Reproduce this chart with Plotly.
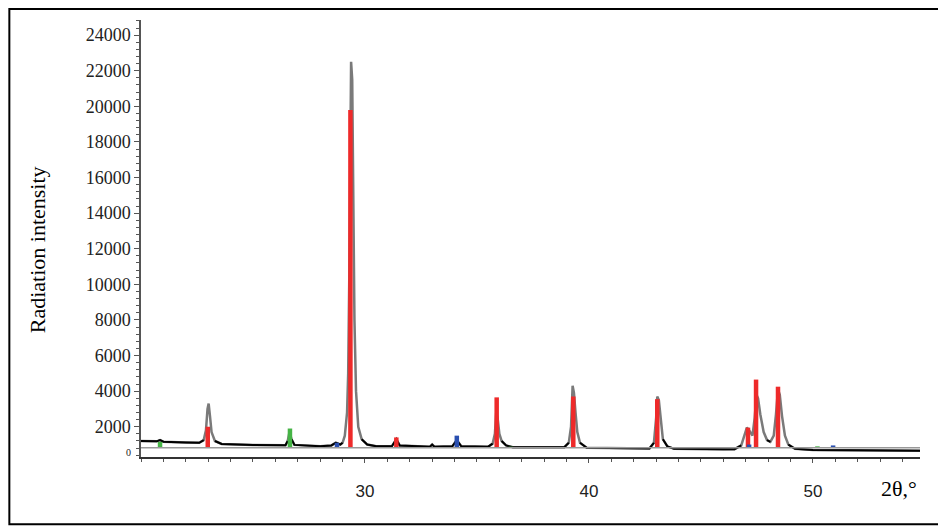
import plotly.graph_objects as go

# measured profile (2theta, intensity)
two_theta = [20.0, 20.7, 20.85, 21.0, 22.0, 22.6, 22.8, 22.9, 22.97, 23.02, 23.08, 23.15, 23.3, 23.6,
             25.0, 26.45, 26.55, 26.63, 26.72, 26.85, 28.0, 28.5, 28.7, 28.9,
             29.0, 29.1, 29.2, 29.25, 29.3, 29.35, 29.38, 29.43, 29.48, 29.53, 29.6, 29.7, 29.85, 30.1, 30.5,
             31.2, 31.4, 31.55, 32.9, 33.0, 33.1, 33.9, 34.1, 34.3,
             35.5, 35.7, 35.8, 35.86, 35.92, 36.0, 36.1, 36.3, 36.6,
             38.9, 39.1, 39.2, 39.27, 39.33, 39.4, 39.48, 39.6, 39.9,
             42.7, 42.9, 43.0, 43.05, 43.12, 43.2, 43.3, 43.5, 43.8,
             46.0, 46.5, 46.8, 46.95, 47.05, 47.15, 47.3, 47.4, 47.48, 47.55, 47.65, 47.8, 47.95,
             48.1, 48.25, 48.35, 48.44, 48.52, 48.62, 48.75, 48.9, 49.2,
             50.0, 52.0, 54.0, 54.8]
intensity = [1200, 1180, 1250, 1160, 1120, 1100, 1250, 1800, 3000, 3300, 2600, 1700, 1200, 1030,
             980, 960, 1200, 1700, 1300, 980, 900, 950, 1100, 1000,
             1100, 1500, 2800, 5000, 10500, 19000, 22500, 21500, 15000, 8000, 4000, 2000, 1300, 1000, 900,
             900, 1300, 950, 880, 1000, 880, 900, 1250, 900,
             880, 1050, 1600, 2800, 2500, 1600, 1200, 950, 850,
             850, 1100, 2000, 4300, 3900, 2800, 1700, 1100, 820,
             780, 1100, 2500, 3700, 3500, 2300, 1300, 900, 760,
             720, 740, 950, 1500, 1950, 1800, 1500, 2500, 3800, 3600, 2700, 1700, 1250,
             1150, 1500, 2700, 4100, 3800, 2600, 1500, 1000, 760,
             700, 680, 660, 650]

# reference sticks
red_pos = [22.98, 29.35, 31.4, 35.88, 39.3, 43.05, 47.1, 47.46, 48.44]
red_int = [2000, 19800, 1400, 3650, 3700, 3550, 1950, 4650, 4250]
green_pos = [20.85, 26.65, 36.5, 50.2]
green_int = [1150, 1900, 880, 900]
blue_pos = [28.75, 34.1, 47.15, 50.9, 54.5]
blue_int = [1100, 1500, 1000, 950, 850]

base = 820
y_ticks = list(range(2000, 24001, 2000))


def sticks(pos, val):
    xs, ys = [], []
    for p, v in zip(pos, val):
        xs += [p, p, None]
        ys += [base, v, None]
    return xs, ys


# black trace only along the background, the peaks stay grey
low = [v if v < 1400 else None for v in intensity]

fig = go.Figure()
fig.add_hline(y=base, line_color='#999999', line_width=1.5)
fig.add_trace(go.Scatter(x=two_theta, y=intensity, mode='lines',
                         line=dict(color='#7a7a7a', width=2.5), showlegend=False))
fig.add_trace(go.Scatter(x=two_theta, y=low, mode='lines', connectgaps=False,
                         line=dict(color='black', width=2), showlegend=False))
for pos, val, col in [(red_pos, red_int, '#ee2a2a'), (green_pos, green_int, '#46b446'),
                      (blue_pos, blue_int, '#2a4fb0')]:
    sx, sy = sticks(pos, val)
    fig.add_trace(go.Scatter(x=sx, y=sy, mode='lines', line=dict(color=col, width=4.5),
                             connectgaps=False, showlegend=False))

serif = 'Liberation Serif'
fig.update_layout(
    width=938, height=519,
    margin=dict(l=133, r=26, t=12, b=70),
    plot_bgcolor='white', paper_bgcolor='white',
    font=dict(family=serif, size=16, color='#222222'),
)
fig.update_xaxes(range=[20, 54.78], showgrid=False, zeroline=False,
                 showline=True, linecolor='#333333', linewidth=1.5,
                 tickvals=[30, 40, 50], ticks='outside', ticklen=4, tickcolor='#555555',
                 tickfont=dict(family='Liberation Sans', size=17, color='#222222'),
                 ticklabelstandoff=14,
                 minor=dict(dtick=1, ticks='outside', ticklen=3, tickcolor='#555555'))
fig.update_yaxes(range=[300, 24850], showgrid=False, zeroline=False,
                 showline=True, linecolor='#555555', linewidth=1.5,
                 tickvals=y_ticks, ticktext=[str(v) for v in y_ticks],
                 ticks='outside', ticklen=5, tickcolor='#555555',
                 tickfont=dict(family=serif, size=18, color='#222222'),
                 minor=dict(dtick=400, ticks='outside', ticklen=3, tickcolor='#555555'))

fig.add_annotation(text='Radiation intensity', xref='paper', yref='paper',
                   x=-0.133, y=0.474, xanchor='center', yanchor='middle',
                   textangle=-90, showarrow=False,
                   font=dict(family=serif, size=22, color='black'))
fig.add_annotation(text='2θ,°', xref='paper', yref='paper', x=0.973, y=-0.071,
                   xanchor='center', yanchor='middle', showarrow=False,
                   font=dict(family=serif, size=22, color='black'))
fig.add_annotation(text='0', xref='paper', yref='paper', x=-0.016, y=0.011,
                   xanchor='center', yanchor='middle', showarrow=False,
                   font=dict(family=serif, size=10, color='#222222'))
fig.add_shape(type='rect', xref='paper', yref='paper', x0=-0.169, x1=1.029,
              y0=-0.154, y1=1.025, line=dict(color='black', width=2))

fig.write_html("out.html")
